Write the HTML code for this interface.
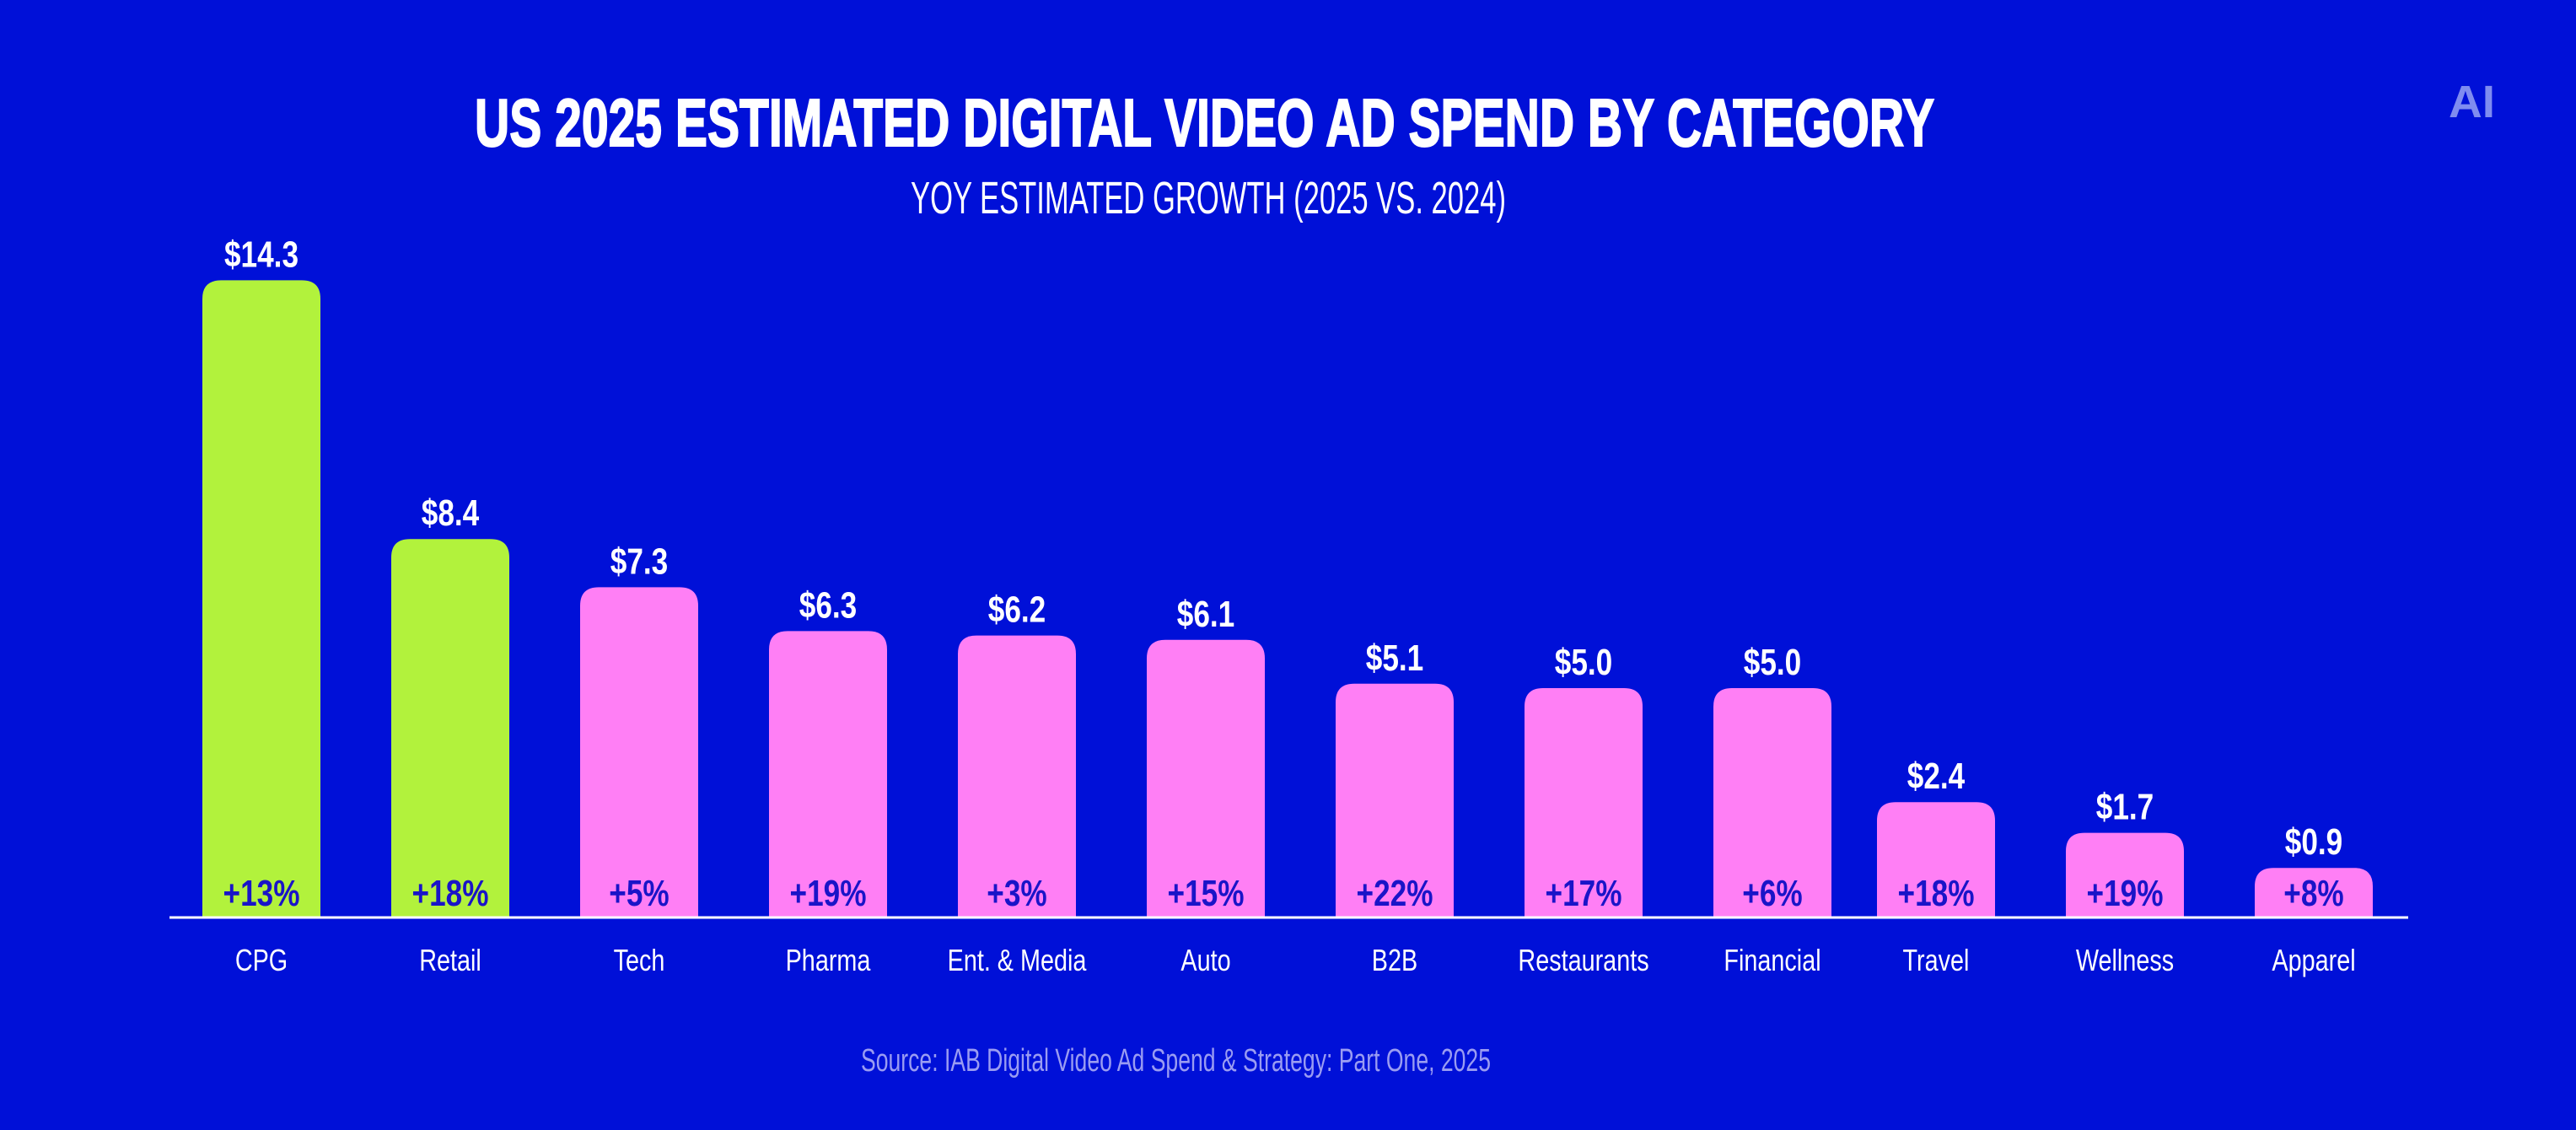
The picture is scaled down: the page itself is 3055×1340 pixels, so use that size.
<!DOCTYPE html>
<html><head><meta charset="utf-8"><style>
html,body{margin:0;padding:0;background:#0010d8;}
svg{display:block;}
</style></head><body>
<svg id="chart" width="3055" height="1340" viewBox="0 0 3055 1340" xmlns="http://www.w3.org/2000/svg">
<rect x="0" y="0" width="3055" height="1340" fill="#0010d8"/>
<text x="563" y="173" textLength="1731" lengthAdjust="spacingAndGlyphs" font-family="Liberation Sans Narrow, Liberation Sans, sans-serif" font-weight="bold" font-size="80" fill="#ffffff" stroke="#ffffff" stroke-width="2">US 2025 ESTIMATED DIGITAL VIDEO AD SPEND BY CATEGORY</text>
<text x="1080" y="253" textLength="706" lengthAdjust="spacingAndGlyphs" font-family="Liberation Sans Narrow, Liberation Sans, sans-serif" font-size="54" fill="#ffffff">YOY ESTIMATED GROWTH (2025 VS. 2024)</text>
<text x="2904" y="139" textLength="55" lengthAdjust="spacingAndGlyphs" font-family="Liberation Sans Narrow, Liberation Sans, sans-serif" font-weight="bold" font-size="54" fill="#7f8cf0">AI</text>
<text x="1021" y="1270" textLength="747" lengthAdjust="spacingAndGlyphs" font-family="Liberation Sans Narrow, Liberation Sans, sans-serif" font-size="38" fill="#9a9cf2">Source: IAB Digital Video Ad Spend &amp; Strategy: Part One, 2025</text>
<g id="bars"></g>
<line x1="201" y1="1088" x2="2856" y2="1088" stroke="#ffffff" stroke-width="3"/>
</svg>
<script>
const categories = ["CPG","Retail","Tech","Pharma","Ent. & Media","Auto","B2B","Restaurants","Financial","Travel","Wellness","Apparel"];
const spend = [14.3,8.4,7.3,6.3,6.2,6.1,5.1,5.0,5.0,2.4,1.7,0.9];
const growth = [13,18,5,19,3,15,22,17,6,18,19,8];
const highlighted = [true,true,false,false,false,false,false,false,false,false,false,false];

const NS = "http://www.w3.org/2000/svg";
const baseY = 1088, barW = 140;
function xCenter(i){ return 310 + i*224 - (i >= 9 ? 30 : 0); }
function yTop(v){ return baseY - (52*v + 12); }
const g = document.getElementById('bars');
const font = "Liberation Sans Narrow, Liberation Sans, sans-serif";
function txt(x,y,s,size,weight,fill){
  const t = document.createElementNS(NS,'text');
  t.setAttribute('x',0); t.setAttribute('y',0);
  t.setAttribute('transform',`translate(${x},${y}) scale(0.8,1)`);
  t.setAttribute('text-anchor','middle');
  t.setAttribute('font-family',font);
  t.setAttribute('font-size',size);
  t.setAttribute('font-weight',weight);
  t.setAttribute('fill',fill);
  t.textContent = s;
  return t;
}
categories.forEach((c,i)=>{
  const cx = xCenter(i), top = yTop(spend[i]), r = 22;
  const x0 = cx - barW/2;
  const p = document.createElementNS(NS,'path');
  p.setAttribute('d',`M${x0},${baseY} V${top+r} Q${x0},${top} ${x0+r},${top} H${x0+barW-r} Q${x0+barW},${top} ${x0+barW},${top+r} V${baseY} Z`);
  p.setAttribute('fill', highlighted[i] ? '#b2f23c' : '#ff7ff5');
  
  
  g.appendChild(p);
  const v = txt(cx, top - 16, '$' + spend[i].toFixed(1), 44, 'bold', '#ffffff');
  
  
  g.appendChild(v);
  const gr = txt(cx, baseY - 14, '+' + growth[i] + '%', 44, 'bold', '#1a14c8');
  
  
  g.appendChild(gr);
  const cl = txt(cx, 1151, c, 36, 'normal', '#ffffff');
  
  
  g.appendChild(cl);
});
</script>
</body></html>
